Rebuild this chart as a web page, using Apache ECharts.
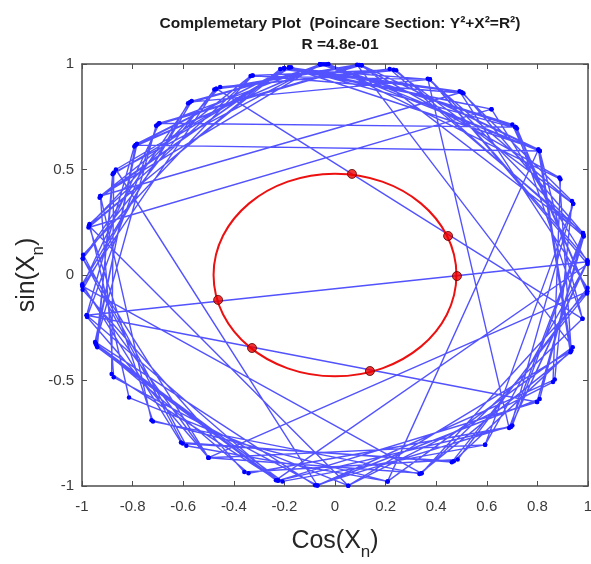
<!DOCTYPE html>
<html>
<head>
<meta charset="utf-8">
<script src="https://cdn.jsdelivr.net/npm/echarts@6/dist/echarts.min.js"></script>
<style>
  html, body { margin: 0; padding: 0; background: #fff; }
  #chart { width: 591px; height: 564px; }
</style>
</head>
<body>
<div id="chart"></div>
<script>
// Phase X_n of each iterate, in degrees (plotted as cos / sin)
const phaseDeg = [
  151, -152, -103, -37, 11, 68, 125, 175.5, -127, -62,
  -21, 36, 84, 134, 44.5, 93.4, 135, -161, -102, -53.6,
  19.7, 76.6, 109, 174.5, -126, -78, -20, 85, 118, -177,
  -120, -70, -4.5, 45.5, 93.4, 158, -151, -94, -29.7, 20.5,
  60, 101.6, 166.5, -87, -30.5, 27, 92, 125.5, -176, -111,
  -61, -3.5, 60.5, 100.5, 150, -94, -36, 11.5, 77.5, 118,
  -12, 44.5, 92.5, 142, -161, -110, -46, 3.6, -169, -37,
  10.5, 76, 117, 166.5, -136, -70.5, -21.5, 36.5, 100.5, 142,
  36, 91.5, 124.5, -177.5, -127.5, -62.5, -5, 44, 100, 151.5,
  -160, -103.5, 3, 68, 101.6, 158, 60, 102.5, 167, 51.8,
  100.5, 141.5, -161.5, -94.5, -45.5, 11, 84, 118.5, 175.5, -120,
  -4.5, 44.5, 93.4, 151, -160.5, -103, -46, 19.7, 68.5, -46.5,
  11.5, 59.5, 109, 166, -144.5, -87, -21, 27.5, 84.5, 134,
  -177, -70, -12, 36, 93, 142.5, -169, -103, -46, 4,
  68, 109.5, 158, -136.5, -78, 36.5, 84, 134.5, -168.5, -120,
  -53.6, 3.6, 51.8, 101.6, 158.5
];

// Crossings of the trajectory with the section circle
const sectionX = [0.067, 0.447, 0.482, -0.462, -0.328, 0.138];
const sectionY = [0.479, 0.185, -0.005, -0.118, -0.346, -0.455];

// Section circle radius
const sectionR = 0.48;

// Axis ticks
const xTicks = [-1, -0.8, -0.6, -0.4, -0.2, 0, 0.2, 0.4, 0.6, 0.8, 1];
const yTicks = [-1, -0.5, 0, 0.5, 1];

const trajectory = phaseDeg.map(function (d) {
  const a = d * Math.PI / 180;
  return [Math.cos(a), Math.sin(a)];
});
const sectionPts = sectionX.map(function (x, i) { return [x, sectionY[i]]; });

const axisGray = '#4d4d4d';
const labelGray = '#3a3a3a';
const font = 'Liberation Sans Narrow, Liberation Sans, Arial';

const chart = echarts.init(document.getElementById('chart'));

const baseX = {
  type: 'value',
  min: xTicks[0],
  max: xTicks[xTicks.length - 1],
  interval: 0.2,
  splitLine: { show: false },
  axisLine: { show: true, onZero: false, lineStyle: { color: axisGray, width: 1.5 } },
  axisTick: { show: true, inside: true, length: 5, lineStyle: { color: axisGray, width: 1 } }
};
const baseY = {
  type: 'value',
  min: yTicks[0],
  max: yTicks[yTicks.length - 1],
  interval: 0.5,
  splitLine: { show: false },
  axisLine: { show: true, onZero: false, lineStyle: { color: axisGray, width: 1.5 } },
  axisTick: { show: true, inside: true, length: 5, lineStyle: { color: axisGray, width: 1 } }
};

const nameRich = {
  a: { fontFamily: font, fontSize: 25, color: '#262626', lineHeight: 30 },
  s: { fontFamily: font, fontSize: 17, color: '#262626', lineHeight: 30, padding: [22, 0, 0, 0] }
};

chart.setOption({
  animation: false,
  backgroundColor: '#ffffff',
  title: {
    text: 'Complemetary Plot  (Poincare Section: Y\u00B2+X\u00B2=R\u00B2)\nR =4.8e-01',
    left: 335,
    textAlign: 'center',
    top: 8,
    textStyle: {
      fontFamily: font,
      fontWeight: 'bold',
      fontSize: 15.5,
      lineHeight: 21,
      color: '#1a1a1a'
    }
  },
  grid: { left: 82, right: 3, top: 64, bottom: 78, containLabel: false, outerBoundsMode: 'none' },
  xAxis: [
    Object.assign({}, baseX, {
      position: 'bottom',
      axisLabel: {
        show: true, margin: 13,
        fontFamily: font, fontSize: 15, color: labelGray,
        formatter: function (v) { return String(+v.toFixed(1)); }
      },
      name: '{a|Cos(X}{s|n}{a|)}',
      nameLocation: 'middle',
      nameGap: 40,
      nameMoveOverlap: false,
      nameTextStyle: { rich: nameRich }
    }),
    Object.assign({}, baseX, {
      position: 'top',
      axisLabel: { show: false }
    })
  ],
  yAxis: [
    Object.assign({}, baseY, {
      position: 'left',
      axisLabel: {
        show: true, margin: 8,
        fontFamily: font, fontSize: 15, color: labelGray,
        formatter: function (v) { return String(+v.toFixed(1)); }
      },
      name: '{a|sin(X}{s|n}{a|)}',
      nameLocation: 'middle',
      nameGap: 40,
      nameMoveOverlap: false,
      nameTextStyle: { rich: nameRich }
    }),
    Object.assign({}, baseY, {
      position: 'right',
      axisLabel: { show: false }
    })
  ],
  series: [
    {
      type: 'line',
      data: trajectory,
      xAxisIndex: 0,
      yAxisIndex: 0,
      symbol: 'circle',
      symbolSize: 4.5,
      showSymbol: true,
      lineStyle: { color: 'rgba(0,0,255,0.68)', width: 1.4 },
      itemStyle: { color: '#0000ff' },
      z: 2
    },
    {
      type: 'custom',
      xAxisIndex: 0,
      yAxisIndex: 0,
      data: [[0, 0, sectionR]],
      renderItem: function (params, api) {
        const c = api.coord([api.value(0), api.value(1)]);
        const s = api.size([api.value(2), api.value(2)]);
        return {
          type: 'ellipse',
          shape: { cx: c[0], cy: c[1], rx: s[0], ry: s[1] },
          style: { fill: null, stroke: '#ec1010', lineWidth: 2 }
        };
      },
      z: 3
    },
    {
      type: 'scatter',
      data: sectionPts,
      symbol: 'circle',
      symbolSize: 9,
      itemStyle: { color: '#ee0000', borderColor: '#5a0000', borderWidth: 1 },
      z: 4
    }
  ]
});
</script>
</body>
</html>
